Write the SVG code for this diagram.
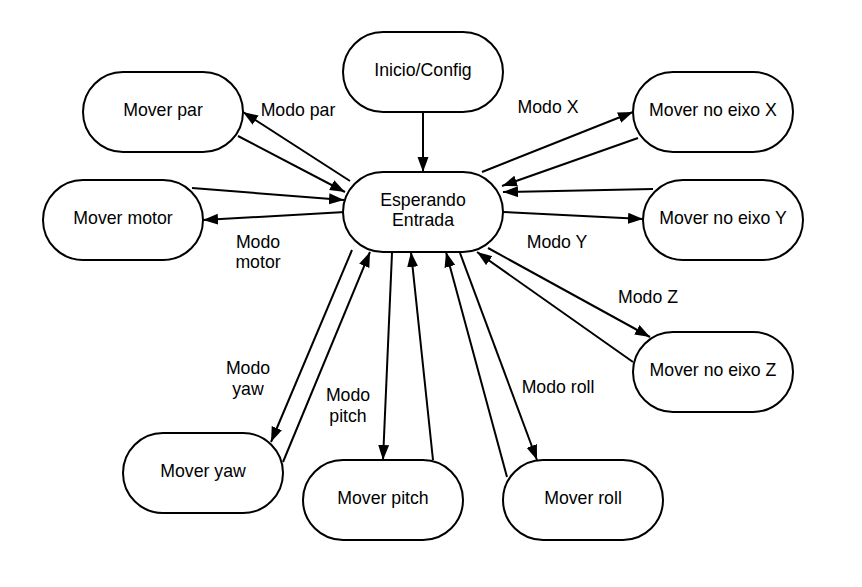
<svg xmlns="http://www.w3.org/2000/svg" width="862" height="587" viewBox="0 0 862 587">
<style>
.n rect{fill:#fff;stroke:#000;stroke-width:2}
text{font-family:"Liberation Sans",Arial,sans-serif;font-size:17.7px;fill:#000;text-anchor:middle}
.c line{stroke:#000;stroke-width:2;marker-end:url(#ah)}
</style>
<defs>
<marker id="ah" markerUnits="userSpaceOnUse" markerWidth="16" markerHeight="12" refX="15" refY="5.5" orient="auto">
<path d="M0,0 L15,5.5 L0,11 z" fill="#000"/>
</marker>
</defs>
<rect width="862" height="587" fill="#fff"/>
<g class="c" id="connectors">
<line x1="423" y1="112" x2="423" y2="172"/>
<line x1="350" y1="181" x2="243" y2="112"/>
<line x1="238" y1="136" x2="345" y2="192"/>
<line x1="192" y1="188" x2="344" y2="200"/>
<line x1="345" y1="212" x2="203" y2="220"/>
<line x1="482" y1="172" x2="633" y2="112"/>
<line x1="638" y1="138" x2="502" y2="186"/>
<line x1="653" y1="189" x2="503" y2="192"/>
<line x1="503" y1="212" x2="643" y2="219"/>
<line x1="488" y1="248" x2="650" y2="337"/>
<line x1="633" y1="362" x2="477" y2="252"/>
<line x1="352" y1="250" x2="271" y2="442"/>
<line x1="283" y1="462" x2="370" y2="252"/>
<line x1="392" y1="253" x2="383" y2="460"/>
<line x1="433" y1="460" x2="411" y2="252"/>
<line x1="507" y1="477" x2="446" y2="252"/>
<line x1="460" y1="253" x2="537" y2="460"/>
</g>
<g id="labels">
<text x="298" y="116">Modo par</text>
<text x="258" y="248">Modo</text>
<text x="258" y="268">motor</text>
<text x="548" y="113">Modo X</text>
<text x="557" y="248">Modo Y</text>
<text x="648" y="303">Modo Z</text>
<text x="558" y="393">Modo roll</text>
<text x="248" y="374">Modo</text>
<text x="248" y="395">yaw</text>
<text x="348" y="401">Modo</text>
<text x="348" y="422">pitch</text>
</g>
<g class="n" id="inicio"><rect x="343" y="32" width="160" height="80" rx="40"/><text x="423" y="76">Inicio/Config</text></g>
<g class="n" id="esperando"><rect x="343" y="172" width="160" height="80" rx="40"/><text x="423" y="206">Esperando</text><text x="423" y="226">Entrada</text></g>
<g class="n" id="par"><rect x="83" y="72" width="160" height="80" rx="40"/><text x="163" y="116">Mover par</text></g>
<g class="n" id="motor"><rect x="43" y="180" width="160" height="80" rx="40"/><text x="123" y="224">Mover motor</text></g>
<g class="n" id="eixox"><rect x="633" y="72" width="160" height="80" rx="40"/><text x="713" y="116">Mover no eixo X</text></g>
<g class="n" id="eixoy"><rect x="643" y="180" width="160" height="80" rx="40"/><text x="723" y="224">Mover no eixo Y</text></g>
<g class="n" id="eixoz"><rect x="633" y="332" width="160" height="80" rx="40"/><text x="713" y="376">Mover no eixo Z</text></g>
<g class="n" id="yaw"><rect x="123" y="433" width="160" height="80" rx="40"/><text x="203" y="477">Mover yaw</text></g>
<g class="n" id="pitch"><rect x="303" y="460" width="160" height="80" rx="40"/><text x="383" y="504">Mover pitch</text></g>
<g class="n" id="roll"><rect x="503" y="460" width="160" height="80" rx="40"/><text x="583" y="504">Mover roll</text></g>
</svg>
